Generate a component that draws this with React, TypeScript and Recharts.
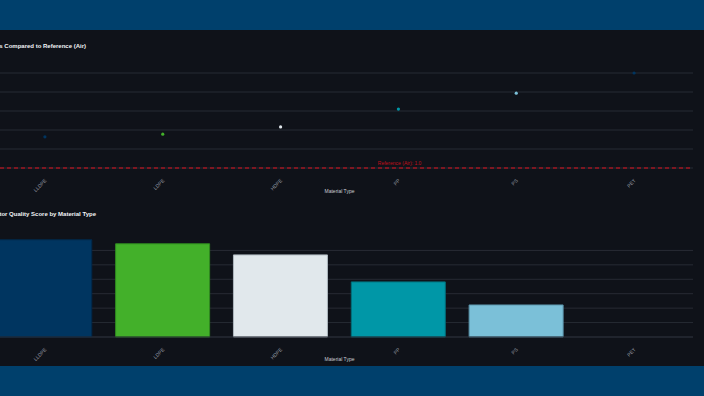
import React from "react";
import {
  ComposedChart,
  BarChart,
  Bar,
  Scatter,
  Cell,
  XAxis,
  YAxis,
  CartesianGrid,
  ReferenceLine,
} from "recharts";

const materials = ["LLDPE", "LDPE", "HDPE", "PP", "PS", "PET"];
const odorRatio = [1.82, 1.89, 2.08, 2.55, 2.97, 3.5];
const qualityScore = [6.74, 6.46, 5.69, 3.82, 2.22, 0];
const ratioTicks = [1, 1.5, 2, 2.5, 3, 3.5];
const scoreTicks = [0, 1, 2, 3, 4, 5, 6];
const palette = ["#003560", "#43b02a", "#e1e8ec", "#0097a7", "#7bc0d8", "#003560"];
const edge = ["#00284a", "#2f8a1f", "#aeb7bf", "#00707c", "#5a93aa", "#00284a"];

const ratioData = materials.map((m, i) => ({ material: m, ratio: odorRatio[i] }));
const scoreData = materials.map((m, i) => ({ material: m, score: qualityScore[i] }));

const font = "'Liberation Sans', Arial, sans-serif";
const grid = "#272b34";

const RotTick = (props: any) => {
  const { x, y, payload } = props;
  return (
    <text
      x={x + 2}
      y={y + 5}
      transform={`rotate(-45, ${x + 2}, ${y + 5})`}
      textAnchor="end"
      fontSize={5}
      fill="#9499a2"
      fontFamily={font}
    >
      {payload.value}
    </text>
  );
};

const Dot = (props: any) => {
  const { cx, cy, fill } = props;
  return <circle cx={cx} cy={cy} r={1.6} fill={fill} />;
};

const RefLabel = (props: any) => {
  const vb = props.viewBox;
  return (
    <text
      x={vb.x + vb.width * 0.585}
      y={vb.y - 3}
      textAnchor="middle"
      fontSize={5}
      fill="#c0101a"
      fontFamily={font}
    >
      Reference (Air): 1.0
    </text>
  );
};

const titleStyle: React.CSSProperties = {
  position: "absolute",
  right: 0,
  whiteSpace: "nowrap",
  color: "#f2f4f7",
  fontFamily: font,
  fontWeight: "bold",
  fontSize: 6,
  lineHeight: "8px",
};

export default function App() {
  return (
    <div
      style={{
        position: "fixed",
        left: 0,
        top: 0,
        width: 704,
        height: 396,
        overflow: "hidden",
        background: "#0f1219",
      }}
    >
      <div style={{ position: "absolute", left: 0, top: 0, width: 704, height: 30, background: "#00406c" }} />
      <div style={{ position: "absolute", left: 0, top: 366, width: 704, height: 30, background: "#00406c" }} />

      <div style={{ position: "absolute", top: 42, right: 618, width: 400, height: 8 }}>
        <span style={titleStyle}>Odor Intensity Ratios Compared to Reference (Air)</span>
      </div>
      <div style={{ position: "absolute", top: 210, right: 608, width: 400, height: 8 }}>
        <span style={titleStyle}>Odor Indicator Quality Score by Material Type</span>
      </div>

      <div style={{ position: "absolute", left: -14, top: 30 }}>
        <ComposedChart
          width={718}
          height={170}
          data={ratioData}
          margin={{ top: 43, right: 11, bottom: 4, left: 0 }}
        >
          <CartesianGrid vertical={false} stroke={grid} horizontalValues={ratioTicks} />
          <XAxis
            dataKey="material"
            scale="band"
            height={28}
            tickLine={false}
            axisLine={false}
            interval={0}
            tick={<RotTick />}
            label={{
              value: "Material Type",
              position: "insideBottom",
              offset: 3,
              fontSize: 5,
              fill: "#c9cdd3",
              fontFamily: font,
            }}
          />
          <YAxis hide domain={[1, 3.5]} ticks={ratioTicks} interval={0} />
          <ReferenceLine
            y={1}
            stroke="#e0101c"
            strokeDasharray="4 3"
            strokeWidth={1.2}
            label={<RefLabel />}
          />
          <Scatter dataKey="ratio" shape={<Dot />} isAnimationActive={false}>
            {ratioData.map((d, i) => (
              <Cell key={d.material} fill={palette[i]} />
            ))}
          </Scatter>
        </ComposedChart>
      </div>

      <div style={{ position: "absolute", left: -14, top: 200 }}>
        <BarChart
          width={718}
          height={166}
          data={scoreData}
          barCategoryGap="10%"
          margin={{ top: 36, right: 11, bottom: 3, left: 0 }}
        >
          <CartesianGrid vertical={false} stroke={grid} horizontalValues={scoreTicks} />
          <XAxis
            dataKey="material"
            height={26}
            tickLine={false}
            axisLine={{ stroke: grid }}
            interval={0}
            tick={<RotTick />}
            label={{
              value: "Material Type",
              position: "insideBottom",
              offset: 2,
              fontSize: 5,
              fill: "#c9cdd3",
              fontFamily: font,
            }}
          />
          <YAxis hide domain={[0, 7]} ticks={scoreTicks} interval={0} />
          <Bar dataKey="score" isAnimationActive={false} strokeWidth={1}>
            {scoreData.map((d, i) => (
              <Cell key={d.material} fill={palette[i]} stroke={edge[i]} />
            ))}
          </Bar>
        </BarChart>
      </div>
    </div>
  );
}
